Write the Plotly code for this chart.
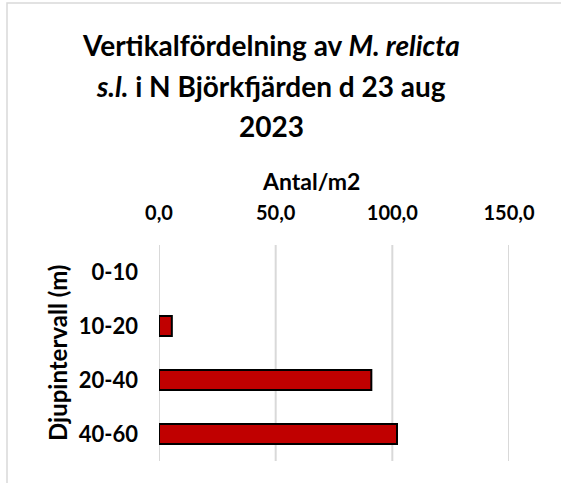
import plotly.graph_objects as go

categories = ["0-10", "10-20", "20-40", "40-60"]
values = [0.0, 5.5, 91.0, 102.0]
x_ticks = [0, 50, 100, 150]
title_lines = [
    "<b>Vertikalfördelning av <i>M. relicta</i></b>",
    "<b><i>s.l.</i> i N Björkfjärden d 23 aug</b>",
    "<b>2023</b>",
]
x_title = "<b>Antal/m2</b>"
y_title = "<b>Djupintervall (m)</b>"

W, H = 561, 483
L, R, T, B = 159, 509, 245, 461
FONT = "Lato"

def px(xp):
    return (xp - L) / (R - L)

def py(yp):
    return (B - yp) / (B - T)

fig = go.Figure(go.Bar(
    x=values, y=categories, orientation="h",
    marker=dict(color="#c00000",
                line=dict(color="#000000", width=[0 if v == 0 else 2 for v in values])),
    width=0.37,
))

# vertical gridlines at every tick (incl. range edges)
for t in x_ticks:
    fig.add_shape(type="line", xref="x", yref="paper", x0=t, x1=t, y0=0, y1=1,
                  line=dict(color="#d9d9d9", width=2), layer="below")

fig.update_layout(
    width=W, height=H,
    margin=dict(l=L, r=W - R, t=T, b=H - B, pad=0),
    paper_bgcolor="white", plot_bgcolor="white",
    separators=", ",
    showlegend=False,
    font=dict(family=FONT, color="#000000"),
    xaxis=dict(
        side="top", range=[0, 150], tickvals=x_ticks, tickformat=".1f",
        showgrid=False, zeroline=False, showline=False, ticks="",
        tickfont=dict(family=FONT, size=20, color="#000000", weight="bold"),
        ticklabelstandoff=20, fixedrange=True,
    ),
    yaxis=dict(
        categoryorder="array", categoryarray=categories, autorange="reversed",
        showgrid=False, zeroline=False, showline=False, ticks="",
        tickfont=dict(family=FONT, size=22, color="#000000", weight="bold"),
        ticklabelstandoff=20, fixedrange=True,
    ),
)

ann = []
for txt, yc in zip(title_lines, [45, 86, 126]):
    ann.append(dict(text=txt, x=px(271), y=py(yc), xref="paper", yref="paper",
                    xanchor="center", yanchor="middle", showarrow=False,
                    font=dict(family=FONT, size=28, color="#000000")))
ann.append(dict(text=x_title, x=px(311), y=py(181), xref="paper", yref="paper",
                xanchor="center", yanchor="middle", showarrow=False,
                font=dict(family=FONT, size=23, color="#000000")))
ann.append(dict(text=y_title, x=px(57), y=py(353), xref="paper", yref="paper",
                xanchor="center", yanchor="middle", showarrow=False, textangle=-90,
                font=dict(family=FONT, size=24, color="#000000")))
fig.update_layout(annotations=ann)

fig.add_shape(type="rect", xref="paper", yref="paper",
              x0=px(7), x1=px(600), y0=py(520), y1=py(3),
              line=dict(color="#d9d9d9", width=1.5), fillcolor="rgba(0,0,0,0)", layer="below")

fig.write_html("out.html")
